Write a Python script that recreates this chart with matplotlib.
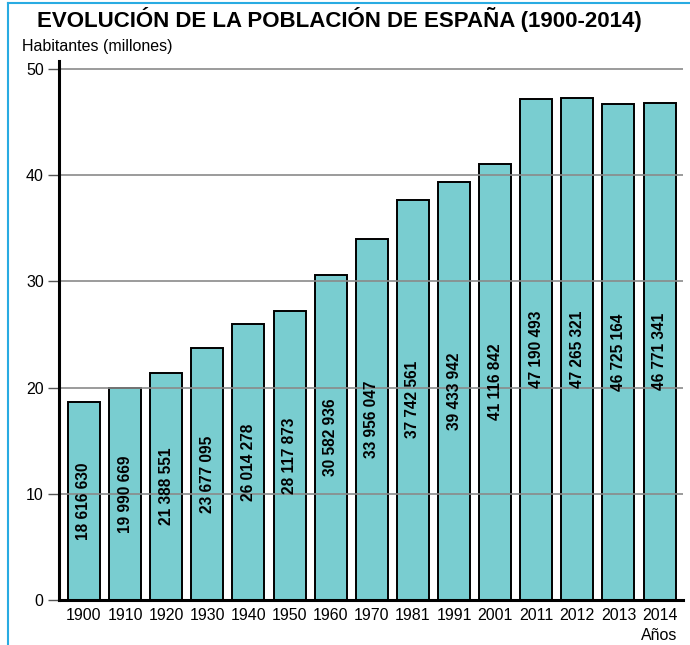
import matplotlib.pyplot as plt
from matplotlib.lines import Line2D

years = ["1900", "1910", "1920", "1930", "1940", "1950", "1960", "1970",
         "1981", "1991", "2001", "2011", "2012", "2013", "2014"]
# figures printed in the bars
population = [18616630, 19990669, 21388551, 23677095, 26014278, 28117873,
              30582936, 33956047, 37742561, 39433942, 41116842, 47190493,
              47265321, 46725164, 46771341]
# bar heights as drawn (millions); the 1950 bar is drawn lower than its label
bar_heights = [18.6, 20.0, 21.4, 23.7, 26.0, 27.2, 30.6, 34.0, 37.7, 39.4,
               41.1, 47.2, 47.3, 46.7, 46.8]
y_ticks = [0, 10, 20, 30, 40, 50]

plt.rcParams['font.family'] = ['Liberation Sans', 'DejaVu Sans']

fig = plt.figure(figsize=(6.9, 6.45), dpi=100)
ax = fig.add_axes([59 / 690, 1 - 600 / 645, (683 - 59) / 690, (600 - 60.5) / 645])

x = list(range(len(years)))
ax.bar(x, bar_heights, width=0.78, color="#79cdd0", edgecolor="black",
       linewidth=1.4, zorder=2)

# population figures written up the middle of each bar
for xi, h, p in zip(x, bar_heights, population):
    label = f"{p:,}".replace(",", " ")
    ax.text(xi, h / 2, label, rotation=90, ha="center", va="center",
            fontsize=11.2, fontweight="bold", zorder=4)

for t in y_ticks[1:]:
    ax.axhline(t, color="#8a8a8a", linewidth=1.2, zorder=3)

ax.set_xlim(-0.608, 14.57)
ax.set_ylim(0, 50.8)
ax.set_yticks(y_ticks)
ax.set_xticks(x)
ax.set_xticklabels(years)
ax.tick_params(axis="x", length=0, pad=6, labelsize=11.5)
ax.tick_params(axis="y", length=8, width=1, pad=3, labelsize=11.5,
               color="#555555")

for side in ("top", "right"):
    ax.spines[side].set_visible(False)
for side in ("left", "bottom"):
    ax.spines[side].set_linewidth(2.2)
    ax.spines[side].set_zorder(5)

fig.text(339 / 690, 1 - 20 / 645, "EVOLUCIÓN DE LA POBLACIÓN DE ESPAÑA (1900-2014)",
         ha="center", va="center", fontsize=16, fontweight="bold")
fig.text(22 / 690, 1 - 47 / 645, "Habitantes (millones)", ha="left",
         va="center", fontsize=11.5)
fig.text(677 / 690, 1 - 635 / 645, "Años", ha="right", va="center",
         fontsize=11.5)

# thin blue frame on top and left
border = "#29abe2"
fig.add_artist(Line2D([8 / 690, 1], [1 - 3 / 645, 1 - 3 / 645],
                      transform=fig.transFigure, color=border, linewidth=1.5))
fig.add_artist(Line2D([8 / 690, 8 / 690], [0, 1 - 3 / 645],
                      transform=fig.transFigure, color=border, linewidth=1.5))

fig.savefig("out.png", dpi=100)
